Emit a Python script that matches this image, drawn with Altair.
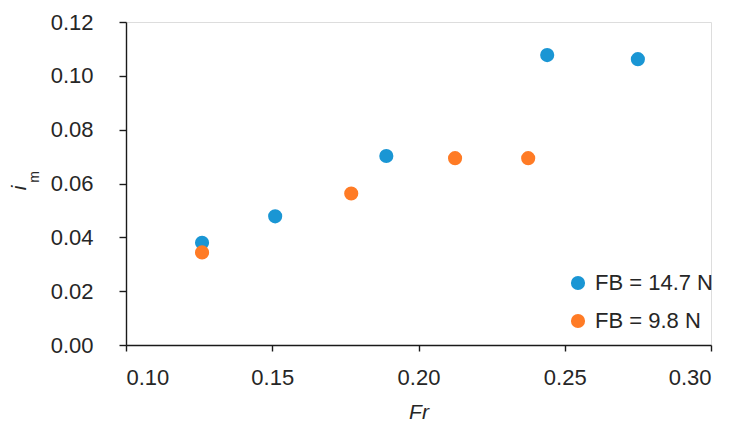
import altair as alt
import pandas as pd

# Data
fr_147 = [0.126, 0.151, 0.189, 0.244, 0.275]
im_147 = [0.0380, 0.0478, 0.0702, 0.1077, 0.1062]
fr_98 = [0.126, 0.177, 0.2125, 0.2375]
im_98 = [0.0344, 0.0563, 0.0694, 0.0694]
series_labels = ["FB = 14.7 N", "FB = 9.8 N"]
series_colors = ["#1A96D4", "#FF7B25"]
x_ticks = [0.10, 0.15, 0.20, 0.25, 0.30]
y_ticks = [0.00, 0.02, 0.04, 0.06, 0.08, 0.10, 0.12]

df = pd.DataFrame({
    "Fr": fr_147 + fr_98,
    "im": im_147 + im_98,
    "series": [series_labels[0]] * len(fr_147) + [series_labels[1]] * len(fr_98),
})

FONT = "Liberation Sans"
AX = "#1a1a1a"
TXT = "#262626"

points = alt.Chart(df).mark_circle(size=200, opacity=1).encode(
    x=alt.X("Fr:Q",
            scale=alt.Scale(domain=[0.10, 0.30], nice=False, zero=False),
            axis=alt.Axis(values=x_ticks, format=".2f", title="Fr",
                          titleFontStyle="italic", titleFontWeight="normal",
                          titleFontSize=21, titleFont=FONT, titleColor=TXT,
                          titlePadding=13,
                          labelFontSize=22, labelFont=FONT, labelColor=TXT,
                          labelPadding=16, tickSize=6, domainColor=AX, tickColor=AX,
                          domainWidth=1.4, tickWidth=1.4, grid=False)),
    y=alt.Y("im:Q",
            scale=alt.Scale(domain=[0, 0.12], nice=False),
            axis=alt.Axis(values=y_ticks, format=".2f", title=None,
                          labelFontSize=22, labelFont=FONT, labelColor=TXT,
                          labelPadding=26, tickSize=7, domainColor=AX, tickColor=AX,
                          domainWidth=1.4, tickWidth=1.4, grid=False)),
    color=alt.Color("series:N",
                    scale=alt.Scale(domain=series_labels, range=series_colors),
                    legend=alt.Legend(title=None, orient="none", legendX=441, legendY=250,
                                      labelFont=FONT, labelFontSize=22, labelColor=TXT,
                                      symbolType="circle", symbolSize=200,
                                      symbolStrokeWidth=0, symbolOpacity=1,
                                      rowPadding=16, labelOffset=6, padding=0)),
)

ti = alt.Chart(pd.DataFrame({"t": ["i"]})).mark_text(
    font=FONT, fontSize=21, fontStyle="italic", angle=270, color=TXT,
    align="center", baseline="middle").encode(
    x=alt.value(-106), y=alt.value(166), text="t:N")
tm = alt.Chart(pd.DataFrame({"t": ["m"]})).mark_text(
    font=FONT, fontSize=14, angle=270, color=TXT,
    align="center", baseline="middle").encode(
    x=alt.value(-91), y=alt.value(155), text="t:N")

chart = alt.layer(points, ti, tm).properties(
    width=585, height=323,
    autosize=alt.AutoSizeParams(type="none"),
    padding={"left": 118, "top": 14, "right": 17, "bottom": 77},
).configure_view(stroke=None).configure(background="white")

chart.save("out.html", embed_options={"renderer": "svg", "actions": False})
